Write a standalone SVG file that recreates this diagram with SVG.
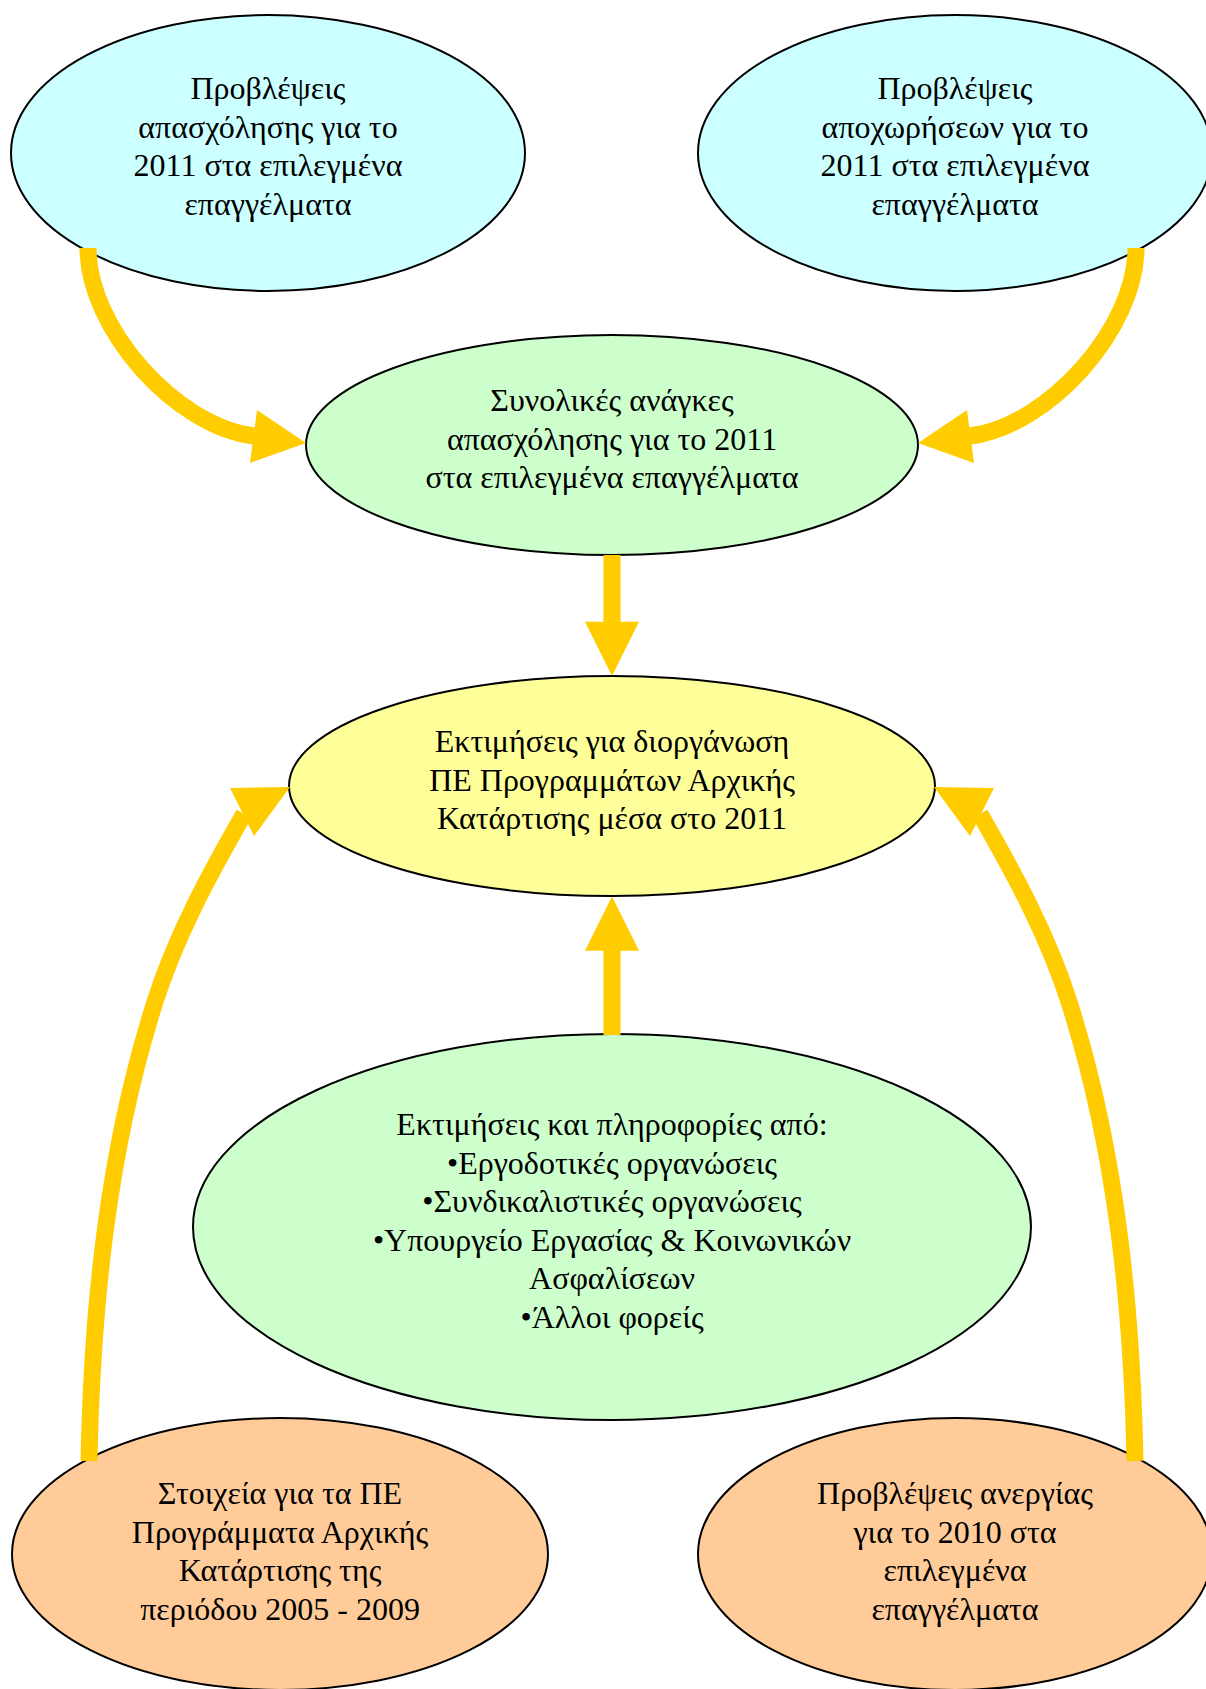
<svg xmlns="http://www.w3.org/2000/svg" width="1206" height="1689" viewBox="0 0 1206 1689">
<style>
.n{stroke:#000;stroke-width:2}
.cy{fill:#CCFFFF}.gr{fill:#CCFFCC}.ye{fill:#FFFF99}.or{fill:#FFCC99}
text{font-family:"Liberation Serif","Times New Roman",serif;font-size:32px;fill:#000;text-anchor:middle}
.c{fill:none;stroke:#FFCC00;stroke-width:17}
.h{fill:#FFCC00;stroke:none}
</style>
<rect width="1206" height="1689" fill="#fff"/>
<g id="node-apasxolisi">
<ellipse class="n cy" cx="268" cy="153" rx="257" ry="138"/>
<text x="268" y="99">Προβλέψεις</text>
<text x="268" y="137.5">απασχόλησης για το</text>
<text x="268" y="176">2011 στα επιλεγμένα</text>
<text x="268" y="214.5">επαγγέλματα</text>
</g>
<g id="node-apoxwriseis">
<ellipse class="n cy" cx="955" cy="153" rx="257" ry="138"/>
<text x="955" y="99">Προβλέψεις</text>
<text x="955" y="137.5">αποχωρήσεων για το</text>
<text x="955" y="176">2011 στα επιλεγμένα</text>
<text x="955" y="214.5">επαγγέλματα</text>
</g>
<g id="node-synolikes">
<ellipse class="n gr" cx="612" cy="445" rx="306" ry="110"/>
<text x="612" y="411">Συνολικές ανάγκες</text>
<text x="612" y="449.5">απασχόλησης για το 2011</text>
<text x="612" y="488">στα επιλεγμένα επαγγέλματα</text>
</g>
<g id="node-ektimiseis">
<ellipse class="n ye" cx="612" cy="786" rx="323" ry="110"/>
<text x="612" y="752">Εκτιμήσεις για διοργάνωση</text>
<text x="612" y="790.5">ΠΕ Προγραμμάτων Αρχικής</text>
<text x="612" y="829">Κατάρτισης μέσα στο 2011</text>
</g>
<g id="node-foreis">
<ellipse class="n gr" cx="612" cy="1227" rx="419" ry="193"/>
<text x="612" y="1135">Εκτιμήσεις και πληροφορίες από:</text>
<text x="612" y="1173.5">•Εργοδοτικές οργανώσεις</text>
<text x="612" y="1212">•Συνδικαλιστικές οργανώσεις</text>
<text x="612" y="1250.5">•Υπουργείο Εργασίας &amp; Κοινωνικών</text>
<text x="612" y="1289">Ασφαλίσεων</text>
<text x="612" y="1327.5">•Άλλοι φορείς</text>
</g>
<g id="node-stoixeia">
<ellipse class="n or" cx="280" cy="1554" rx="268" ry="136"/>
<text x="280" y="1504">Στοιχεία για τα ΠΕ</text>
<text x="280" y="1542.5">Προγράμματα Αρχικής</text>
<text x="280" y="1581">Κατάρτισης της</text>
<text x="280" y="1619.5">περιόδου 2005 - 2009</text>
</g>
<g id="node-anergia">
<ellipse class="n or" cx="955" cy="1554" rx="257" ry="136"/>
<text x="955" y="1504">Προβλέψεις ανεργίας</text>
<text x="955" y="1542.5">για το 2010 στα</text>
<text x="955" y="1581">επιλεγμένα</text>
<text x="955" y="1619.5">επαγγέλματα</text>
</g>
<g id="connectors">
<path class="c" d="M88 248 C88 328 175 426 254 436"/>
<polygon class="h" points="257,410 306,443 250,463"/>
<path class="c" d="M1136 248 C1136 328 1049 426 970 436"/>
<polygon class="h" points="967,410 918,443 974,463"/>
<rect class="h" x="603.5" y="555" width="17" height="68"/>
<polygon class="h" points="585,621.7 639,621.7 612,676"/>
<rect class="h" x="603.5" y="949" width="17" height="86"/>
<polygon class="h" points="612,896.5 585,950.7 639,950.7"/>
<path class="c" d="M89 1461 C92 1306 108 1150 154.6 1003 C175.6 936.5 209 875 244 814"/>
<polygon class="h" points="230,788 290,787 254,836"/>
<path class="c" d="M1135 1461 C1132 1306 1116 1150 1069.4 1003 C1048.4 936.5 1015 875 980 814"/>
<polygon class="h" points="994,788 934,787 970,836"/>
</g>
</svg>
